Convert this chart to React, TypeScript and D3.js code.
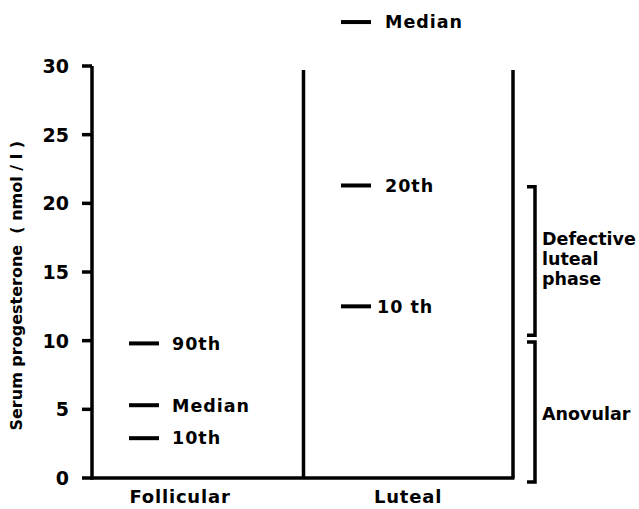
import React, { useEffect, useRef } from 'react';
import * as d3 from 'd3';

const phases = ['Follicular', 'Luteal'];
const yTicks = [0, 5, 10, 15, 20, 25, 30];

// percentile marks per phase
const follicularLabels = ['90th', 'Median', '10th'];
const follicularValues = [9.8, 5.3, 2.9];
const lutealLabels = ['Median', '20th', '10 th'];
const lutealValues = [33.2, 21.3, 12.5];

// diagnostic ranges shown as brackets
const rangeLabels = [['Defective', 'luteal', 'phase'], ['Anovular']];
const rangeTops = [21.2, 9.9];
const rangeBottoms = [10.4, -0.3];

const FONT = '"DejaVu Sans", sans-serif';

export default function App() {
  const svgRef = useRef<SVGSVGElement>(null);

  useEffect(() => {
    if (!svgRef.current) return;
    const svg = d3.select(svgRef.current);
    svg.selectAll('*').remove();

    const left = 92;
    const right = 513;
    const y = d3.scaleLinear().domain([0, 30]).range([478, 66]);
    const x = d3.scaleBand().domain(phases).range([left, right]);

    const g = svg.append('g').attr('font-family', FONT).attr('font-weight', 'bold');

    // y axis with ticks on the left
    g.append('line')
      .attr('x1', left).attr('x2', left)
      .attr('y1', y(30)).attr('y2', y(0) + 1.5)
      .attr('stroke', '#000').attr('stroke-width', 3.5);
    yTicks.forEach(t => {
      g.append('line')
        .attr('x1', left - 10).attr('x2', left)
        .attr('y1', y(t)).attr('y2', y(t))
        .attr('stroke', '#000').attr('stroke-width', 3.5);
      g.append('text')
        .attr('x', 69).attr('y', y(t))
        .attr('dy', '0.36em')
        .attr('text-anchor', 'end')
        .attr('font-size', 19)
        .text(t);
    });

    // baseline
    g.append('line')
      .attr('x1', left - 1.5).attr('x2', right + 1.5)
      .attr('y1', y(0)).attr('y2', y(0))
      .attr('stroke', '#000').attr('stroke-width', 3.5);

    // phase dividers
    [x('Luteal')! + 1, right].forEach(px => {
      g.append('line')
        .attr('x1', px).attr('x2', px)
        .attr('y1', y(29.7)).attr('y2', y(0))
        .attr('stroke', '#000').attr('stroke-width', 3.5);
    });

    // y label
    g.append('text')
      .attr('transform', `translate(22,${y(14)}) rotate(-90)`)
      .attr('text-anchor', 'middle')
      .attr('font-size', 16)
      .attr('xml:space', 'preserve')
      .text('Serum progesterone  ( nmol / l )');

    // category labels
    const catX = [180, 408];
    phases.forEach((p, i) => {
      g.append('text')
        .attr('x', catX[i]).attr('y', 503)
        .attr('text-anchor', 'middle')
        .attr('font-size', 18)
        .attr('letter-spacing', 0.8)
        .text(p);
    });

    const drawMarks = (labels: string[], values: number[], x0: number, tx: number[]) => {
      values.forEach((v, i) => {
        g.append('line')
          .attr('x1', x0).attr('x2', x0 + 30)
          .attr('y1', y(v)).attr('y2', y(v))
          .attr('stroke', '#000').attr('stroke-width', 4);
        g.append('text')
          .attr('x', tx[i]).attr('y', y(v))
          .attr('dy', '0.36em')
          .attr('font-size', 17.5)
          .attr('letter-spacing', 1)
          .text(labels[i]);
      });
    };
    drawMarks(follicularLabels, follicularValues, 129, [172, 172, 172]);
    drawMarks(lutealLabels, lutealValues, 341, [385, 385, 377]);

    // brackets
    const bx = 535;
    rangeTops.forEach((top, i) => {
      const bottom = rangeBottoms[i];
      g.append('path')
        .attr('d', `M${bx - 8},${y(top)} H${bx} V${y(bottom)} H${bx - 8}`)
        .attr('fill', 'none')
        .attr('stroke', '#000').attr('stroke-width', 3.5);
      const mid = (y(top) + y(bottom)) / 2;
      const lines = rangeLabels[i];
      lines.forEach((ln, j) => {
        g.append('text')
          .attr('x', 542)
          .attr('y', mid + (j - (lines.length - 1) / 2) * 20 + (i === 1 ? 2 : -2))
          .attr('dy', '0.36em')
          .attr('font-size', 17.5)
          .text(ln);
      });
    });
  }, []);

  return (
    <svg ref={svgRef} width={639} height={509}
      style={{ position: 'absolute', left: 0, top: 0, background: '#fff' }} />
  );
}
